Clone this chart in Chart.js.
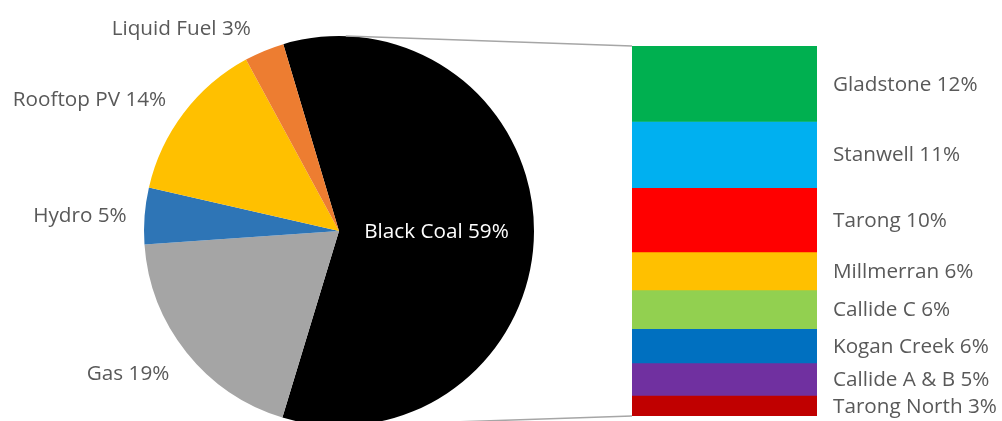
<!DOCTYPE html>
<html><head><meta charset="utf-8">
<script src="https://cdn.jsdelivr.net/npm/chart.js@4.4.1/dist/chart.umd.min.js"></script>
<style>
html,body{margin:0;padding:0;width:1002px;height:421px;overflow:hidden;background:#fff}
canvas{position:absolute;left:0;top:0}
</style></head><body>
<canvas id="pie" width="1002" height="440"></canvas>
<canvas id="bar" width="1002" height="440"></canvas>
<script>
const pieLabels = ['Black Coal', 'Gas', 'Hydro', 'Rooftop PV', 'Liquid Fuel'];
const pieValues = [59.3, 19.2, 4.7, 13.5, 3.3];
const pieColors = ['#000000', '#A5A5A5', '#2E75B6', '#FFC000', '#ED7D31'];

const barLabels = ['Gladstone', 'Stanwell', 'Tarong', 'Millmerran', 'Callide C', 'Kogan Creek', 'Callide A & B', 'Tarong North'];
const barValues = [12.1, 10.6, 10.3, 6.1, 6.2, 5.5, 5.2, 3.3];
const barColors = ['#00B050', '#00B0F0', '#FF0000', '#FFC000', '#92D050', '#0070C0', '#7030A0', '#C00000'];

// small label nudges (style only), in px, per pie slice
const pieLabelNudge = [[0, 0], [0, 8], [4, 2], [0, 0], [-5, -1]];

const FONT = '20.7px "Open Sans"';
const TEXT = '#595959';
const pct = v => Math.round(v) + '%';

const pieLabelPlugin = {
  id: 'pieLabels',
  afterDatasetsDraw(chart) {
    const ctx = chart.ctx;
    const meta = chart.getDatasetMeta(0);
    ctx.save();
    ctx.font = FONT;
    ctx.textBaseline = 'middle';
    meta.data.forEach((el, i) => {
      const mid = (el.startAngle + el.endAngle) / 2;
      const txt = pieLabels[i] + ' ' + pct(pieValues[i]);
      const [nx, ny] = pieLabelNudge[i];
      if (i === 0) {
        const r = el.outerRadius * 0.5;
        ctx.fillStyle = '#FFFFFF';
        ctx.textAlign = 'center';
        ctx.fillText(txt, el.x + Math.cos(mid) * r + nx, el.y + Math.sin(mid) * r + 1 + ny);
      } else {
        const r = el.outerRadius + 22;
        ctx.fillStyle = TEXT;
        ctx.textAlign = Math.cos(mid) < 0 ? 'right' : 'left';
        ctx.fillText(txt, el.x + Math.cos(mid) * r + nx, el.y + Math.sin(mid) * r + ny);
      }
    });
    ctx.restore();
  }
};

const pieChart = new Chart(document.getElementById('pie'), {
  type: 'pie',
  data: {
    labels: pieLabels,
    datasets: [{ data: pieValues, backgroundColor: pieColors, borderWidth: 0, hoverOffset: 0 }]
  },
  options: {
    responsive: false,
    animation: false,
    rotation: -16.6,
    layout: { padding: { left: 144, top: 36, right: 468, bottom: 14 } },
    plugins: { legend: { display: false }, tooltip: { enabled: false } },
    events: []
  },
  plugins: [pieLabelPlugin]
});

const barTotal = barValues.reduce((a, b) => a + b, 0);

const barPlugin = {
  id: 'barLabels',
  afterDatasetsDraw(chart) {
    const ctx = chart.ctx;
    ctx.save();
    // connector lines
    const arc = pieChart.getDatasetMeta(0).data[0];
    const first = chart.getDatasetMeta(0).data[0];
    const last = chart.getDatasetMeta(barValues.length - 1).data[0];
    const left = first.x - first.width / 2;
    const top = Math.min(first.y, first.base);
    const bottom = Math.max(last.y, last.base);
    const aTop = (2 - 90) * Math.PI / 180;
    const aBot = (175 - 90) * Math.PI / 180;
    ctx.strokeStyle = '#A6A6A6';
    ctx.lineWidth = 1.5;
    ctx.beginPath();
    ctx.moveTo(arc.x + Math.cos(aTop) * arc.outerRadius, arc.y + Math.sin(aTop) * arc.outerRadius);
    ctx.lineTo(left, top);
    ctx.moveTo(arc.x + Math.cos(aBot) * arc.outerRadius, arc.y + Math.sin(aBot) * arc.outerRadius);
    ctx.lineTo(left, bottom);
    ctx.stroke();
    // labels
    ctx.font = FONT;
    ctx.fillStyle = TEXT;
    ctx.textAlign = 'left';
    ctx.textBaseline = 'middle';
    barValues.forEach((v, i) => {
      const el = chart.getDatasetMeta(i).data[0];
      const x = el.x + el.width / 2 + 16;
      const y = (el.y + el.base) / 2 + 1;
      ctx.fillText(barLabels[i] + ' ' + pct(v), x, y);
    });
    ctx.restore();
  }
};

new Chart(document.getElementById('bar'), {
  type: 'bar',
  data: {
    labels: [''],
    datasets: barValues.map((v, i) => ({
      label: barLabels[i],
      data: [v],
      backgroundColor: barColors[i],
      borderWidth: 0,
      barPercentage: 1,
      categoryPercentage: 1
    }))
  },
  options: {
    responsive: false,
    animation: false,
    layout: { padding: { left: 632, top: 46, right: 185, bottom: 24 } },
    scales: {
      x: { display: false, stacked: true },
      y: { display: false, stacked: true, reverse: true, min: 0, max: barTotal }
    },
    plugins: { legend: { display: false }, tooltip: { enabled: false } },
    events: []
  },
  plugins: [barPlugin]
});
</script>
</body></html>
